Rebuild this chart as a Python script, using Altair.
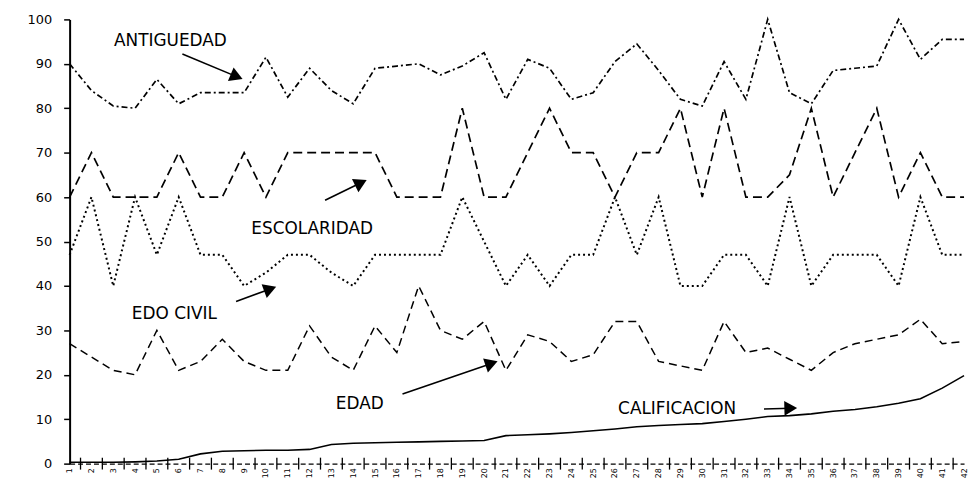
import math
import altair as alt
import pandas as pd

# ---------------- data ----------------
idx = list(range(1, 43))
antiguedad = [90, 84, 80.5, 80, 86.5, 81, 83.5, 83.5, 83.5, 91.5, 82.5, 89, 84, 81, 89, 89.5,
              90, 87.5, 89.5, 92.5, 82, 91, 89, 82, 83.5, 90.5, 94.5, 88.5, 82, 80.5, 90.5, 82,
              100, 83.5, 81, 88.5, 89, 89.5, 100, 91, 95.5, 95.5]
escolaridad = [60, 70, 60, 60, 60, 70, 60, 60, 70, 60, 70, 70, 70, 70, 70, 60, 60, 60, 80, 60,
               60, 70, 80, 70, 70, 60, 70, 70, 80, 60, 80, 60, 60, 65, 80, 60, 70, 80, 60, 70,
               60, 60]
edo_civil = [47, 60, 40, 60, 47, 60, 47, 47, 40, 43, 47, 47, 43, 40, 47, 47, 47, 47, 60, 50,
             40, 47, 40, 47, 47, 60, 47, 60, 40, 40, 47, 47, 40, 60, 40, 47, 47, 47, 40, 60,
             47, 47]
edad = [27, 24, 21, 20, 30, 21, 23, 28, 23, 21, 21, 31, 24, 21, 31, 25, 40, 30, 28, 32,
        21, 29, 27.5, 23, 24.5, 32, 32, 23, 22, 21, 32, 25, 26, 23.5, 21, 25, 27, 28, 29, 32.5,
        27, 27.5]
calificacion = [0.3, 0.3, 0.3, 0.4, 0.6, 1.0, 2.2, 2.8, 2.9, 3.0, 3.0, 3.2, 4.3, 4.6, 4.7, 4.8,
                4.9, 5.0, 5.1, 5.2, 6.3, 6.5, 6.7, 7.0, 7.4, 7.8, 8.3, 8.6, 8.8, 9.0, 9.5, 10.0,
                10.6, 10.8, 11.2, 11.8, 12.2, 12.8, 13.6, 14.6, 17.0, 19.8]
y_ticks = list(range(0, 101, 10))

# annotation labels
labels = ["ANTIGUEDAD", "ESCOLARIDAD", "EDO CIVIL", "EDAD", "CALIFICACION"]
label_x = [5.62, 12.12, 5.80, 14.30, 28.85]
label_y = [95.1, 52.8, 33.6, 13.4, 12.3]
arrow_x1 = [6.17, 12.71, 8.63, 16.26, 32.83]
arrow_y1 = [92.2, 59.3, 36.5, 15.7, 12.3]
arrow_x2 = [8.91, 14.60, 10.45, 20.60, 34.33]
arrow_y2 = [86.6, 63.8, 39.8, 23.0, 12.5]

# ---------------- layout ----------------
W, H = 900, 447
PX = W / (idx[-1] - idx[0])
PY = H / 100.0
FONT = "DejaVu Sans"

xs = alt.Scale(domain=[idx[0], idx[-1]], nice=False, zero=False)
ys = alt.Scale(domain=[0, 100], nice=False, zero=False)

x_axis = alt.Axis(values=idx, labelAngle=270, labelFontSize=8, labelFont=FONT,
                  ticks=False, labelPadding=4, domainDash=[5, 3], domainColor="black",
                  domainWidth=1.2, grid=False, title=None, labelColor="black",
                  labelFlush=False, labelOverlap=False)
y_axis = alt.Axis(values=y_ticks, tickSize=6, tickColor="black", tickWidth=1.5,
                  domainColor="black", domainWidth=2, labelFontSize=13, labelFont=FONT,
                  labelPadding=12, grid=False, title=None, labelColor="black")

rows = []
for k, v in enumerate(idx):
    for name, arr in [("ANTIGUEDAD", antiguedad), ("ESCOLARIDAD", escolaridad),
                      ("EDO CIVIL", edo_civil), ("EDAD", edad), ("CALIFICACION", calificacion)]:
        rows.append({"i": v, "serie": name, "valor": arr[k]})
df = pd.DataFrame(rows)

styles = {
    "ANTIGUEDAD": dict(strokeDash=[6, 3, 2, 3], strokeWidth=1.7),
    "ESCOLARIDAD": dict(strokeDash=[9, 5], strokeWidth=1.7),
    "EDO CIVIL": dict(strokeDash=[2, 3], strokeWidth=2.0),
    "EDAD": dict(strokeDash=[8, 5], strokeWidth=1.5),
    "CALIFICACION": dict(strokeWidth=1.6),
}

layers = []
for name, st in styles.items():
    layers.append(
        alt.Chart(df).transform_filter(alt.datum.serie == name)
        .mark_line(color="black", **st)
        .encode(x=alt.X("i:Q", scale=xs, axis=x_axis),
                y=alt.Y("valor:Q", scale=ys, axis=y_axis))
    )

# x-axis tick marks crossing the axis line
ticks_df = pd.DataFrame({"t": [i + 0.5 for i in idx[:-1]]})
tick_layer = alt.Chart(ticks_df).mark_rule(color="black", strokeWidth=1.3).encode(
    x=alt.X("t:Q", scale=xs, axis=x_axis), y=alt.value(H - 6), y2=alt.value(H + 6))

# annotations
arows = []
for k in range(len(labels)):
    dxp = (arrow_x2[k] - arrow_x1[k]) * PX
    dyp = -(arrow_y2[k] - arrow_y1[k]) * PY
    L = math.hypot(dxp, dyp)
    ux, uy = dxp / L, dyp / L
    ang = math.degrees(math.atan2(ux, -uy)) % 360
    back = 6.0
    cx = arrow_x2[k] - ux * back / PX
    cy = arrow_y2[k] + uy * back / PY
    arows.append(dict(text=labels[k], tx=label_x[k], ty=label_y[k], x1=arrow_x1[k],
                      y1=arrow_y1[k], cx=cx, cy=cy, ang=ang))
ann = pd.DataFrame(arows)

text_layer = alt.Chart(ann).mark_text(font=FONT, fontSize=17, color="black", align="center",
                                      baseline="middle").encode(
    x=alt.X("tx:Q", scale=xs, axis=x_axis), y=alt.Y("ty:Q", scale=ys, axis=y_axis),
    text="text:N")
shaft_layer = alt.Chart(ann).mark_rule(color="black", strokeWidth=1.6).encode(
    x=alt.X("x1:Q", scale=xs, axis=x_axis), y=alt.Y("y1:Q", scale=ys, axis=y_axis),
    x2="cx:Q", y2="cy:Q")
head_layer = alt.Chart(ann).mark_point(shape="triangle-up", filled=True, color="black",
                                       opacity=1, size=220).encode(
    x=alt.X("cx:Q", scale=xs, axis=x_axis), y=alt.Y("cy:Q", scale=ys, axis=y_axis),
    angle=alt.Angle("ang:Q", scale=None))

chart = alt.layer(*layers, tick_layer, shaft_layer, head_layer, text_layer).properties(
    width=W, height=H,
    autosize=alt.AutoSizeParams(type="none"),
    padding={"left": 62, "top": 10, "right": 6, "bottom": 15},
    background="white",
).configure_view(stroke=None)

chart.save("out.html", embed_options={"renderer": "svg", "actions": False})
